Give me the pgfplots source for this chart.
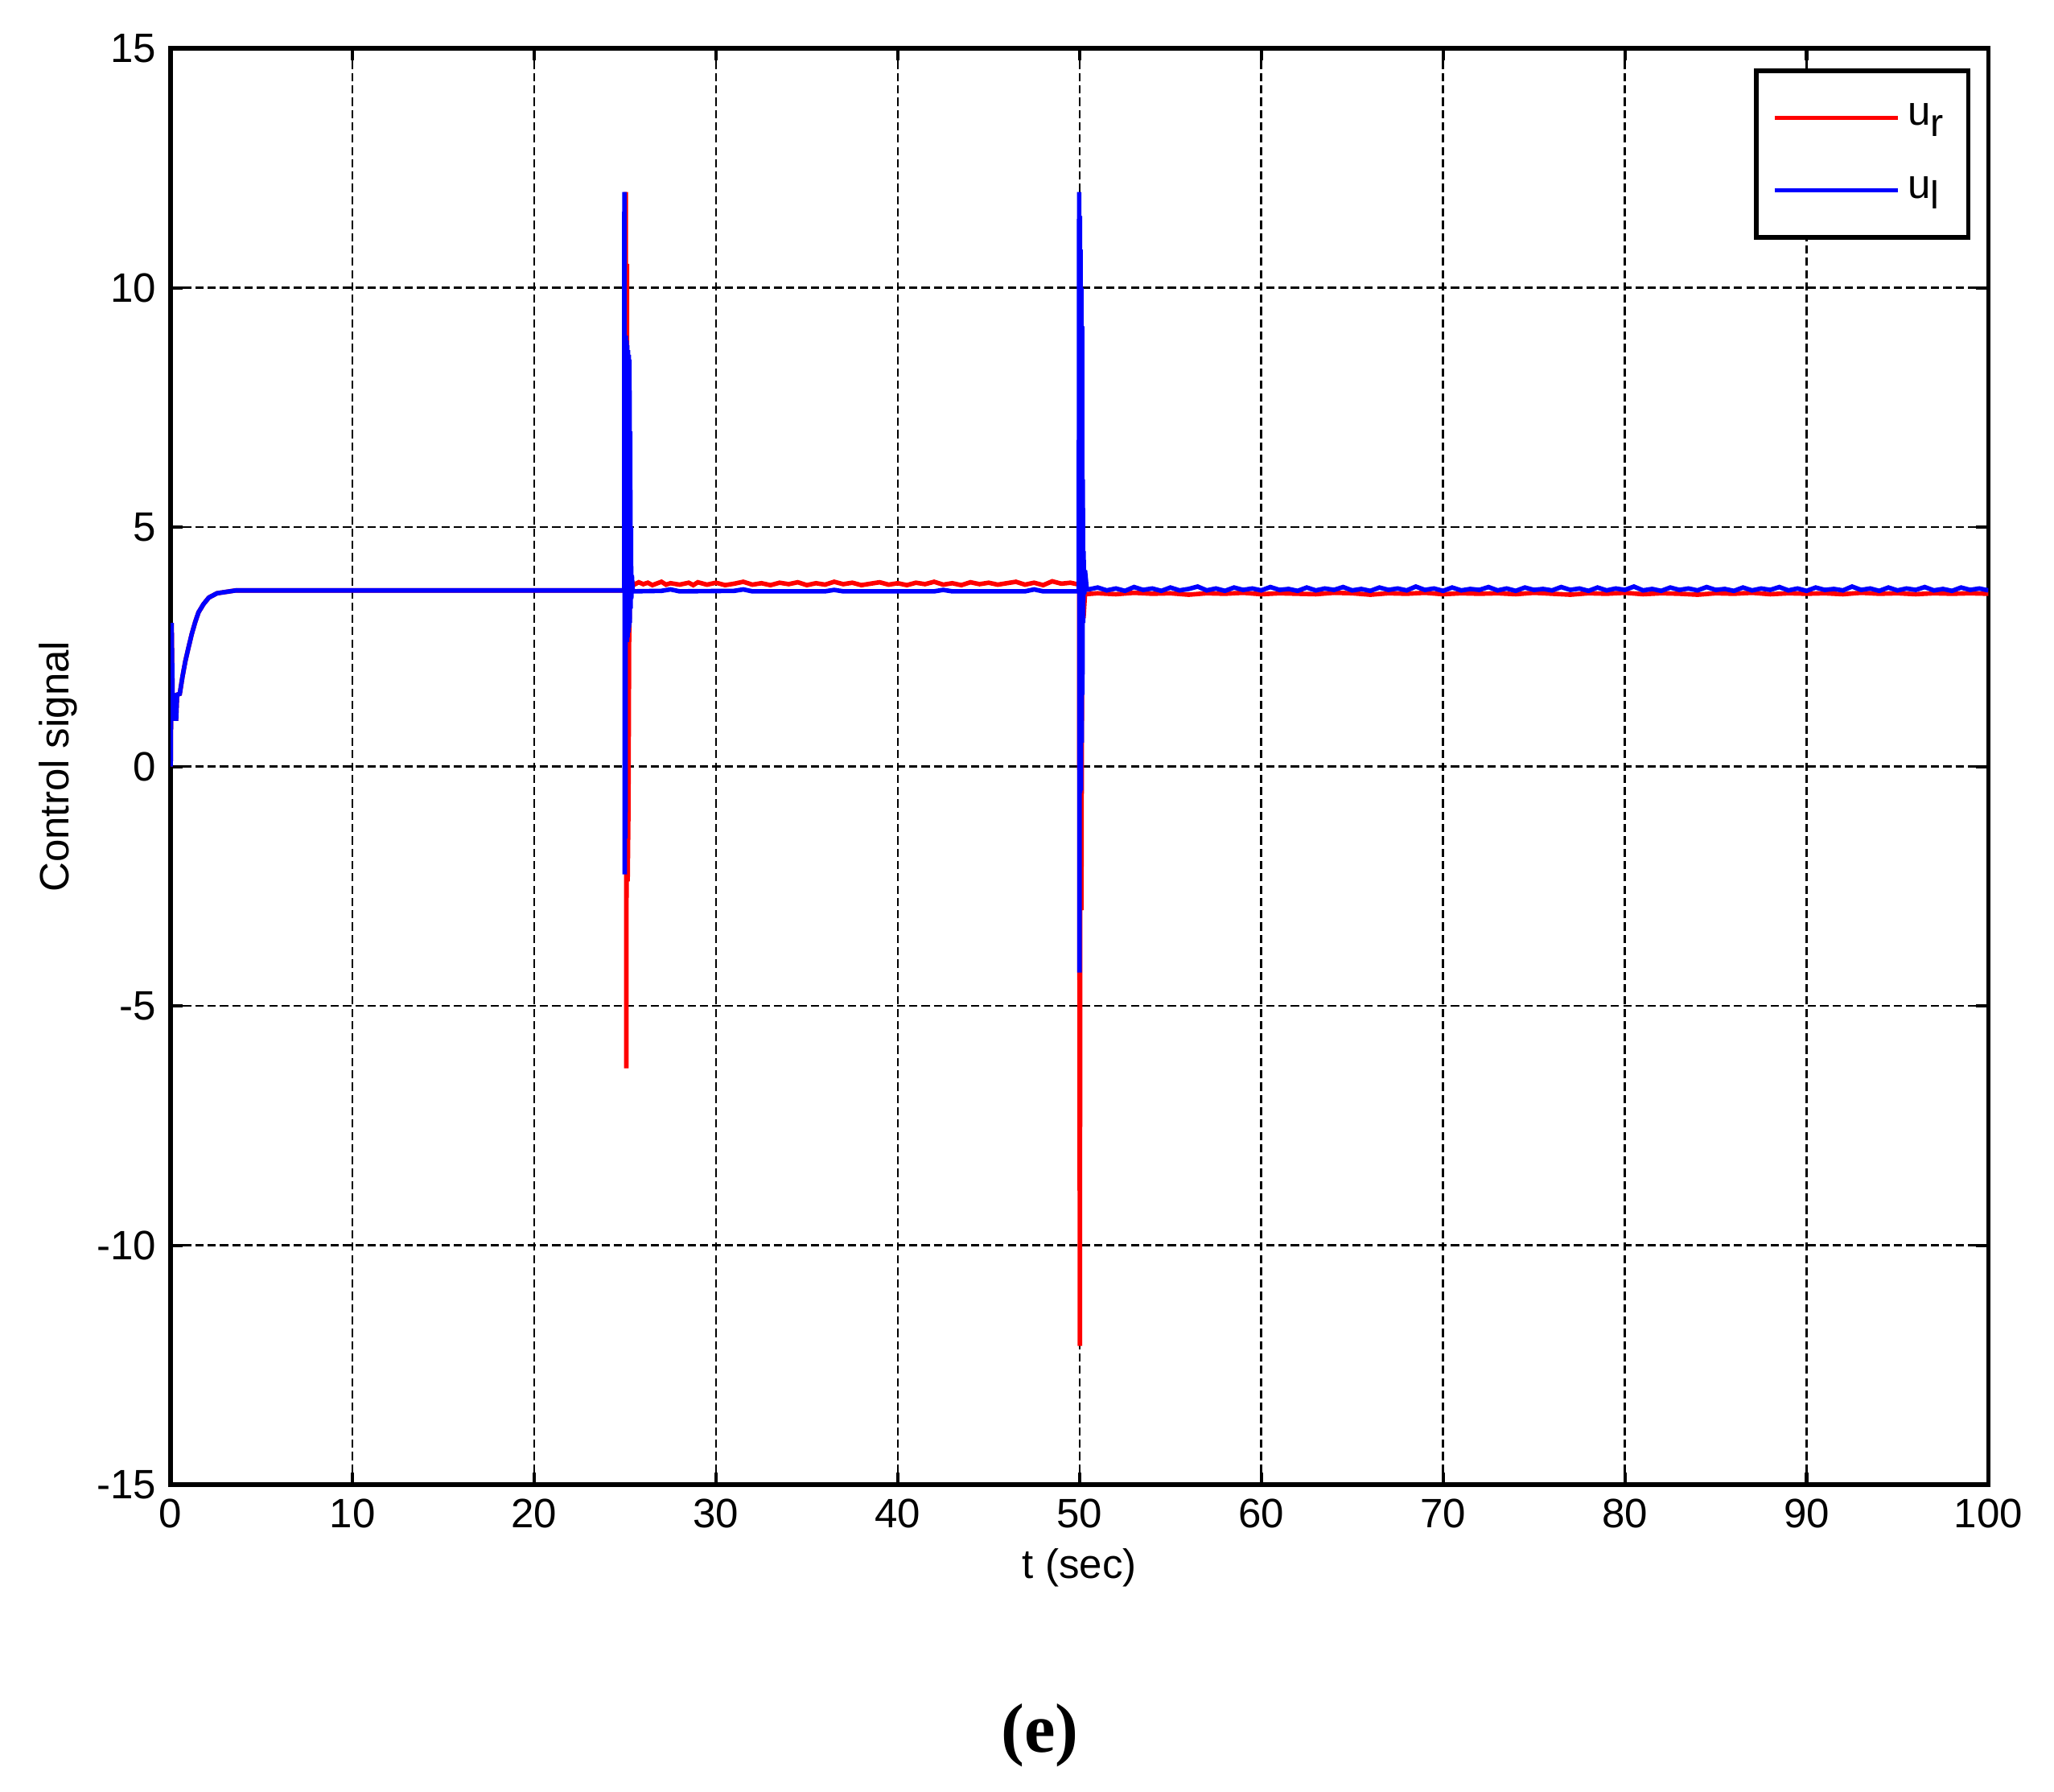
\documentclass[border=0pt]{standalone}
\usepackage{fontspec}
\setmainfont{Liberation Sans}
\newfontfamily\capfont{Liberation Serif}
\usepackage{pgfplots}
\pgfplotsset{compat=1.18}
\usetikzlibrary{calc}

\newcommand{\sub}[1]{\raisebox{-0.5ex}{\fontsize{9.5}{9.5}\selectfont #1}}

\begin{document}
\begin{tikzpicture}
\begin{axis}[
    scale only axis,
    width=443pt, height=350pt,
    xmin=0, xmax=100,
    ymin=-15, ymax=15,
    xtick={0,10,...,100},
    ytick={-15,-10,...,15},
    /pgf/number format/assume math mode=true,
    tick align=inside,
    major tick length=3pt,
    tick style={black, line width=0.8pt},
    axis line style={black, line width=1.1pt},
    grid=major,
    major grid style={black, line width=0.5pt, dash pattern=on 2pt off 1pt},
    xlabel={t (sec)},
    ylabel={Control signal},
    xlabel style={yshift=2pt},
    ylabel style={yshift=-2pt},
    legend style={at={(1,1)}, anchor=north east, xshift=-4.3pt, yshift=-4.9pt,
        draw=black, line width=1.1pt, inner xsep=4pt, inner ysep=6pt,
        row sep=7pt, cells={anchor=west}, font=\normalsize},
    legend image code/.code={\draw[#1, line width=1pt] (0pt,0pt) -- (30pt,0pt);},
]

\addplot[color=red, line width=1.1pt] coordinates {
    (0,0) (0.05,3.0) (0.12,1.0) (0.3,1.0) (0.35,1.5) (0.5,1.52) (0.65,1.88)
    (0.8,2.19) (0.97,2.47) (1.16,2.77) (1.35,3.02) (1.53,3.22) (1.8,3.39)
    (2.1,3.53) (2.55,3.62) (3.6,3.68) (25.0,3.68)
    (25.04,12.0) (25.07,-6.3) (25.1,10.5) (25.14,-2.4) (25.18,-1.0)
    (25.22,2.6) (25.28,3.9) (25.5,3.80)
    (25.75,3.85) (26.0,3.81) (26.25,3.84) (26.5,3.79) (27.0,3.86) (27.25,3.80)
    (27.5,3.83) (28.0,3.80) (28.5,3.84) (28.75,3.79)
    (29.0,3.85) (29.5,3.80) (30.0,3.84) (30.5,3.79) (31.0,3.82) (31.5,3.86)
    (32.0,3.80) (32.5,3.83) (33.0,3.79) (33.5,3.84) (34.0,3.81) (34.5,3.85)
    (35.0,3.79) (35.5,3.83) (36.0,3.80) (36.5,3.86) (37.0,3.81) (37.5,3.84)
    (38.0,3.79) (38.5,3.82) (39.0,3.85) (39.5,3.80) (40.0,3.83) (40.5,3.79)
    (41.0,3.84) (41.5,3.81) (42.0,3.86) (42.5,3.80) (43.0,3.83) (43.5,3.79)
    (44.0,3.85) (44.5,3.81) (45.0,3.84) (45.5,3.80) (46.0,3.83) (46.5,3.86)
    (47.0,3.80) (47.5,3.84) (48.0,3.79) (48.5,3.87) (49.0,3.82) (49.5,3.84)
    (49.98,3.80) (50.02,-12.1) (50.06,8.0) (50.1,-3.0) (50.15,3.9)
    (50.22,3.1) (50.3,3.6) (51.0,3.62) (52.0,3.60) (53.0,3.63) (54.0,3.61)
    (55.0,3.62) (56.0,3.59) (57.0,3.62) (58.0,3.61) (59.0,3.63) (60.0,3.60)
    (61.0,3.62) (62.0,3.61) (63.0,3.60) (64.0,3.63) (65.0,3.62) (66.0,3.59)
    (67.0,3.62) (68.0,3.61) (69.0,3.63) (70.0,3.60) (71.0,3.62) (72.0,3.61)
    (73.0,3.62) (74.0,3.60) (75.0,3.63) (76.0,3.61) (77.0,3.59) (78.0,3.62)
    (79.0,3.61) (80.0,3.63) (81.0,3.60) (82.0,3.62) (83.0,3.61) (84.0,3.59)
    (85.0,3.62) (86.0,3.61) (87.0,3.63) (88.0,3.60) (89.0,3.62) (90.0,3.61)
    (91.0,3.62) (92.0,3.60) (93.0,3.63) (94.0,3.61) (95.0,3.62) (96.0,3.60)
    (97.0,3.62) (98.0,3.61) (99.0,3.62) (100.0,3.61)
};
\addlegendentry{u\sub{r}}

\addplot[color=blue, line width=1.1pt] coordinates {
    (0,0) (0.05,3.0) (0.12,1.0) (0.3,1.0) (0.35,1.5) (0.5,1.52) (0.65,1.88)
    (0.8,2.19) (0.97,2.47) (1.16,2.77) (1.35,3.02) (1.53,3.22) (1.8,3.39)
    (2.1,3.53) (2.55,3.62) (3.6,3.68) (24.95,3.68)
    (24.96,12.0) (24.98,-2.25) (25.0,9.0) (25.02,-1.5) (25.04,9.0) (25.06,2.7)
    (25.08,8.9) (25.1,2.6) (25.12,8.8) (25.14,2.7) (25.16,8.7) (25.18,2.8)
    (25.2,8.6) (25.22,2.9) (25.24,8.5) (25.26,3.0) (25.28,7.0) (25.3,3.3)
    (25.32,5.0) (25.34,3.5) (25.37,4.0) (25.42,3.66)
    (27.0,3.67) (27.5,3.70) (28.0,3.66) (31.0,3.67) (31.5,3.70) (32.0,3.66)
    (36.0,3.66) (36.5,3.69) (37.0,3.66) (42.0,3.66) (42.5,3.69) (43.0,3.66)
    (47.0,3.66) (47.5,3.70) (48.0,3.66) (49.96,3.66)
    (49.98,12.0) (50.0,-4.3) (50.02,11.5) (50.04,-0.55) (50.06,10.8)
    (50.08,-0.5) (50.1,10.0) (50.12,0.5) (50.14,9.2) (50.16,1.5) (50.18,6.0)
    (50.2,3.0) (50.22,4.5) (50.26,3.6) (50.3,4.1)
    (50.4,3.7) (50.5,3.70) (51.0,3.74) (51.5,3.68) (52.0,3.72) (52.5,3.67)
    (53.0,3.75) (53.5,3.69) (54.0,3.72) (54.5,3.67) (55.0,3.74) (55.5,3.68)
    (56.0,3.71) (56.5,3.76) (57.0,3.68) (57.5,3.72) (58.0,3.67) (58.5,3.74)
    (59.0,3.69) (59.5,3.72) (60.0,3.68) (60.5,3.75) (61.0,3.69) (61.5,3.71)
    (62.0,3.67) (62.5,3.74) (63.0,3.68) (63.5,3.72) (64.0,3.69) (64.5,3.75)
    (65.0,3.68) (65.5,3.71) (66.0,3.67) (66.5,3.74) (67.0,3.69) (67.5,3.72)
    (68.0,3.68) (68.5,3.76) (69.0,3.69) (69.5,3.72) (70.0,3.67) (70.5,3.74)
    (71.0,3.68) (71.5,3.71) (72.0,3.69) (72.5,3.75) (73.0,3.68) (73.5,3.72)
    (74.0,3.67) (74.5,3.74) (75.0,3.69) (75.5,3.71) (76.0,3.68) (76.5,3.75)
    (77.0,3.69) (77.5,3.72) (78.0,3.67) (78.5,3.74) (79.0,3.68) (79.5,3.72)
    (80.0,3.69) (80.5,3.76) (81.0,3.68) (81.5,3.71) (82.0,3.67) (82.5,3.74)
    (83.0,3.69) (83.5,3.72) (84.0,3.68) (84.5,3.75) (85.0,3.69) (85.5,3.71)
    (86.0,3.67) (86.5,3.74) (87.0,3.68) (87.5,3.72) (88.0,3.69) (88.5,3.75)
    (89.0,3.68) (89.5,3.72) (90.0,3.67) (90.5,3.74) (91.0,3.69) (91.5,3.71)
    (92.0,3.68) (92.5,3.76) (93.0,3.69) (93.5,3.72) (94.0,3.67) (94.5,3.74)
    (95.0,3.68) (95.5,3.72) (96.0,3.69) (96.5,3.75) (97.0,3.68) (97.5,3.71)
    (98.0,3.67) (98.5,3.74) (99.0,3.69) (99.5,3.72) (100.0,3.68)
};
\addlegendentry{u\sub{l}}

\coordinate (bl) at (rel axis cs:0,0);
\coordinate (tr) at (rel axis cs:1,1);
\end{axis}
\node[font=\capfont\bfseries\fontsize{17}{20}\selectfont] at ($(bl)+(211.8pt,-61pt)$) {(e)};
\pgfresetboundingbox
\path ($(bl)+(-41.6pt,-74.7pt)$) rectangle ($(tr)+(16pt,11.8pt)$);
\end{tikzpicture}
\end{document}
